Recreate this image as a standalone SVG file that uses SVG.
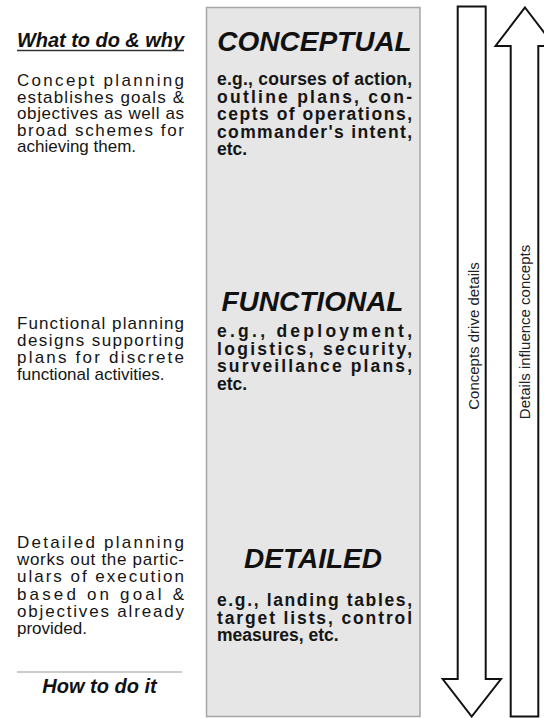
<svg xmlns="http://www.w3.org/2000/svg" width="544" height="718" viewBox="0 0 544 718">
  <style>
    .head { font-family: "Liberation Sans", Arial, sans-serif; font-weight: bold; font-style: italic; font-size: 20px; fill: #111; }
    .tier { font-family: "Liberation Sans", Arial, sans-serif; font-weight: bold; font-style: italic; font-size: 28px; fill: #111; text-anchor: middle; }
    .body { font-family: "Liberation Sans", Arial, sans-serif; font-size: 17px; fill: #151515; }
    .ex { font-family: "Liberation Sans", Arial, sans-serif; font-weight: bold; font-size: 17.5px; fill: #151515; }
    .flow { fill: #fff; stroke: #111; stroke-width: 2; stroke-linejoin: miter; }
    .flowlabel { font-family: "Liberation Sans", Arial, sans-serif; font-size: 15px; fill: #222; text-anchor: middle; }
  </style>
  <rect width="544" height="718" fill="#fff"/>

  <!-- left column: purpose of each planning level -->
  <g id="why">
    <text class="head" x="17" y="47" textLength="167">What to do &amp; why</text>
    <line x1="17" y1="50.5" x2="184" y2="50.5" stroke="#333" stroke-width="1.5"/>
  </g>
  <g id="concept-desc" class="body">
    <text x="17" y="86" textLength="167" lengthAdjust="spacing">Concept planning</text>
    <text x="17" y="102.5" textLength="167" lengthAdjust="spacing">establishes goals &amp;</text>
    <text x="17" y="119" textLength="167" lengthAdjust="spacing">objectives as well as</text>
    <text x="17" y="135.5" textLength="167" lengthAdjust="spacing">broad schemes for</text>
    <text x="17" y="152">achieving them.</text>
  </g>
  <g id="functional-desc" class="body">
    <text x="17" y="329" textLength="167" lengthAdjust="spacing">Functional planning</text>
    <text x="17" y="346" textLength="167" lengthAdjust="spacing">designs supporting</text>
    <text x="17" y="363" textLength="167" lengthAdjust="spacing">plans for discrete</text>
    <text x="17" y="380">functional activities.</text>
  </g>
  <g id="detailed-desc" class="body">
    <text x="17" y="548" textLength="167" lengthAdjust="spacing">Detailed planning</text>
    <text x="17" y="565.2" textLength="167" lengthAdjust="spacing">works out the partic-</text>
    <text x="17" y="582.4" textLength="167" lengthAdjust="spacing">ulars of execution</text>
    <text x="17" y="599.6" textLength="167" lengthAdjust="spacing">based on goal &amp;</text>
    <text x="17" y="616.8" textLength="167" lengthAdjust="spacing">objectives already</text>
    <text x="17" y="634">provided.</text>
  </g>
  <g id="how">
    <line x1="17" y1="672" x2="182" y2="672" stroke="#999" stroke-width="1"/>
    <text class="head" x="99.5" y="693" text-anchor="middle">How to do it</text>
  </g>

  <!-- centre column: the three planning levels -->
  <g id="levels">
    <rect x="206.5" y="7.5" width="213.5" height="709" fill="#e6e6e6" stroke="#a6a6a6" stroke-width="1.5"/>
  </g>
  <g id="conceptual">
    <text class="tier" x="314.5" y="51">CONCEPTUAL</text>
    <g class="ex">
      <text x="217" y="85" textLength="195" lengthAdjust="spacing">e.g., courses of action,</text>
      <text x="217" y="102.5" textLength="195" lengthAdjust="spacing">outline plans, con-</text>
      <text x="217" y="120" textLength="195" lengthAdjust="spacing">cepts of operations,</text>
      <text x="217" y="137.5" textLength="195" lengthAdjust="spacing">commander's intent,</text>
      <text x="217" y="155">etc.</text>
    </g>
  </g>
  <g id="functional">
    <text class="tier" x="312.5" y="311">FUNCTIONAL</text>
    <g class="ex">
      <text x="217" y="337" textLength="195" lengthAdjust="spacing">e.g., deployment,</text>
      <text x="217" y="354.5" textLength="195" lengthAdjust="spacing">logistics, security,</text>
      <text x="217" y="372" textLength="195" lengthAdjust="spacing">surveillance plans,</text>
      <text x="217" y="389.5">etc.</text>
    </g>
  </g>
  <g id="detailed">
    <text class="tier" x="313" y="568">DETAILED</text>
    <g class="ex">
      <text x="217" y="606" textLength="195" lengthAdjust="spacing">e.g., landing tables,</text>
      <text x="217" y="623.5" textLength="195" lengthAdjust="spacing">target lists, control</text>
      <text x="217" y="641">measures, etc.</text>
    </g>
  </g>

  <!-- right: two-way influence between concepts and details -->
  <g id="connectors">
    <g id="down-flow">
      <path class="flow" d="M457.7,6.5 L485.7,6.5 L485.7,679 L501,679 L471.7,716.5 L442.7,679 L457.7,679 Z"/>
      <text class="flowlabel" transform="translate(478.5,336) rotate(-90)">Concepts drive details</text>
    </g>
    <g id="up-flow">
      <path class="flow" d="M525,7.5 L554.5,46 L538.3,46 L538.3,716.5 L510.7,716.5 L510.7,46 L495.5,46 Z"/>
      <text class="flowlabel" transform="translate(529.5,332) rotate(-90)">Details influence concepts</text>
    </g>
  </g>
</svg>
